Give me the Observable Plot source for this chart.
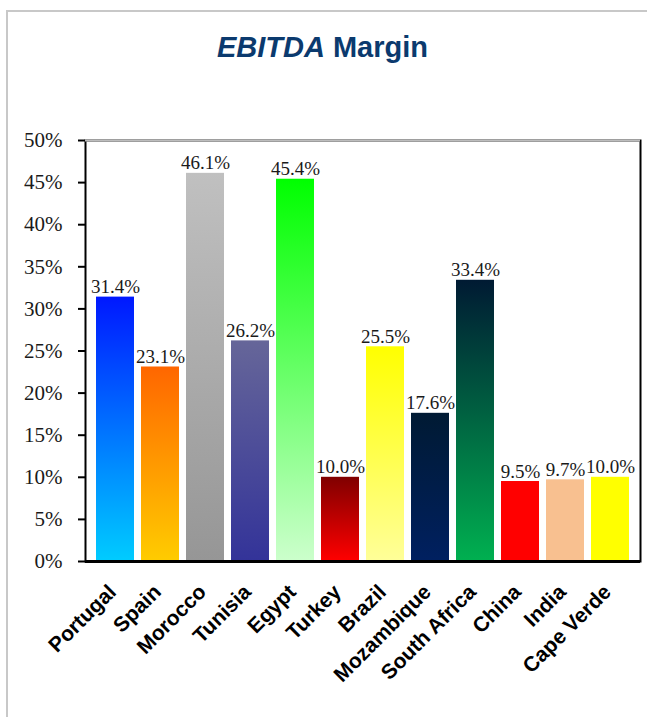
<!DOCTYPE html>
<html><head><meta charset="utf-8">
<script src="https://cdn.jsdelivr.net/npm/d3@7"></script>
<script src="https://cdn.jsdelivr.net/npm/@observablehq/plot@0.6"></script>
<style>
body{margin:0;background:#fff;}
#wrap{position:relative;width:647px;height:717px;overflow:hidden;background:#fff;}
#border{position:absolute;left:6px;top:10px;width:700px;height:800px;border-left:2px solid #c8c8c8;border-top:2px solid #c8c8c8;}
#title{position:absolute;left:0;top:33px;width:645px;text-align:center;font:bold 29px "Liberation Sans",Arial,sans-serif;line-height:29px;color:#0b3a6e;}
#chart{position:absolute;left:0;top:100px;}
</style></head><body>
<div id="wrap"><div id="border"></div><div id="title"><i>EBITDA</i> Margin</div><div id="chart"></div></div>
<script>
const countries = ["Portugal","Spain","Morocco","Tunisia","Egypt","Turkey","Brazil","Mozambique","South Africa","China","India","Cape Verde"];
const margins = [0.314,0.231,0.461,0.262,0.454,0.100,0.255,0.176,0.334,0.095,0.097,0.100];
const topColors = ["#0018ff","#ff6600","#c0c0c0","#666699","#00ff00","#800000","#ffff00","#001a33","#001a33","#ff0000","#f8c090","#ffff00"];
const bottomColors = ["#00ccff","#ffcc00","#969696","#333399","#ccffcc","#ff0000","#ffff99","#002060","#00b050","#ff0000","#f8c090","#ffff00"];
const yTicks = [0,0.05,0.10,0.15,0.20,0.25,0.30,0.35,0.40,0.45,0.50];

const data = countries.map((c,i)=>({country:c, value:margins[i], grad:`url(#grad-${i})`}));

const plot = Plot.plot({
  width:647, height:617, marginTop:40, marginBottom:156, marginLeft:85, marginRight:7,
  style:{background:"transparent", overflow:"visible"},
  x:{domain:countries, padding:0.15, label:null},
  y:{domain:[0,0.5], label:null},
  color:{type:"identity"},
  marks:[
    Plot.barY(data,{x:"country", y:"value", fill:"grad"}),
    Plot.frame({stroke:"#000", strokeWidth:2}),
    Plot.ruleY([0.5],{stroke:"#bdbdbd", strokeWidth:2}),
    Plot.ruleY([0],{stroke:"#000", strokeWidth:3}),
    Plot.axisY({ticks:yTicks, tickFormat:d=>`${Math.round(d*100)}%`, tickSize:7, tickPadding:16,
      fontSize:21, fontFamily:"Liberation Serif", fill:"#1a1a1a", stroke:"#000", strokeWidth:2, label:null}),
    Plot.axisX({tickRotate:-45, tickSize:0, tickPadding:27, dx:-3, fontSize:21, fontWeight:"bold",
      fontFamily:"Liberation Sans", fill:"#000", label:null}),
    Plot.text(data,{x:"country", y:"value", text:d=>(d.value*100).toFixed(1)+"%", lineAnchor:"bottom", dy:-4,
      fontSize:19, fontFamily:"Liberation Serif", fill:"#1a1a1a"})
  ]
});

const defs = d3.select(plot).insert("defs", ":first-child");
countries.forEach((c,i)=>{
  const g = defs.append("linearGradient").attr("id",`grad-${i}`)
    .attr("x1",0).attr("y1",0).attr("x2",0).attr("y2",1);
  g.append("stop").attr("offset","0%").attr("stop-color",topColors[i]);
  g.append("stop").attr("offset","100%").attr("stop-color",bottomColors[i]);
});
document.getElementById("chart").appendChild(plot);
</script>
</body></html>
